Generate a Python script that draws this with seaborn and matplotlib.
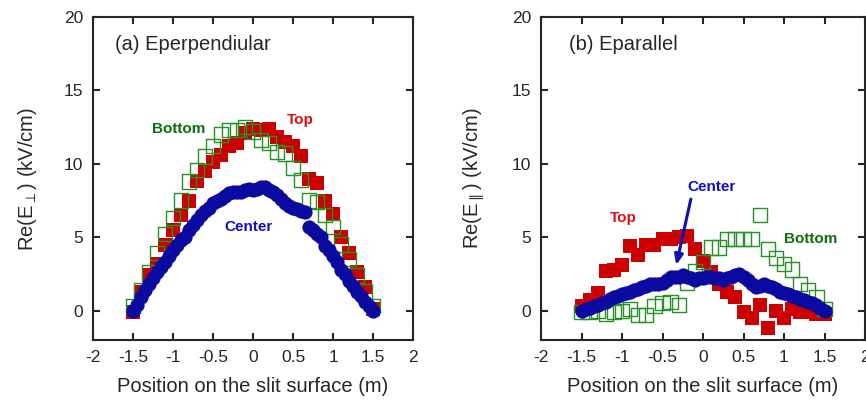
import numpy as np
import pandas as pd
import seaborn as sns
import matplotlib
matplotlib.use("Agg")
import matplotlib.pyplot as plt

# ---- data ----
# (a) E perpendicular
x_sq = [-1.5, -1.4, -1.3, -1.2, -1.1, -1.0, -0.9, -0.8, -0.7, -0.6, -0.5, -0.4, -0.3, -0.2, -0.1, 0.0,
        0.1, 0.2, 0.3, 0.4, 0.5, 0.6, 0.7, 0.8, 0.9, 1.0, 1.1, 1.2, 1.3, 1.4, 1.5]
a_top = [-0.1, 1.3, 2.4, 3.2, 4.5, 5.5, 6.5, 7.5, 8.8, 9.5, 10.1, 10.6, 11.2, 11.4, 12.1, 12.4,
         12.3, 12.4, 11.8, 11.5, 11.2, 10.5, 9.0, 8.7, 7.5, 6.6, 5.0, 3.9, 2.6, 1.6, 0.1]
a_bottom = [0.3, 1.4, 2.6, 3.9, 5.2, 6.3, 7.5, 8.8, 9.6, 10.5, 11.2, 12.0, 12.3, 12.3, 12.5, 12.2,
            11.6, 11.4, 10.8, 10.7, 9.7, 8.9, 7.5, 7.4, 6.5, 5.7, 4.5, 3.5, 2.4, 1.3, 0.3]

x_ci = [-1.5, -1.45, -1.4, -1.35, -1.3, -1.25, -1.2, -1.15, -1.1, -1.05, -1.0, -0.95, -0.9, -0.85,
        -0.8, -0.75, -0.7, -0.65, -0.6, -0.55, -0.5, -0.45, -0.4, -0.35, -0.3, -0.25, -0.2, -0.15,
        -0.1, -0.05, 0.0, 0.05, 0.1, 0.15, 0.2, 0.25, 0.3, 0.35, 0.4, 0.45, 0.5, 0.55, 0.6, 0.65,
        0.7, 0.75, 0.8, 0.85, 0.9, 0.95, 1.0, 1.05, 1.1, 1.15, 1.2, 1.25, 1.3, 1.35, 1.4, 1.45, 1.5]
a_center = [0.0, 0.4, 0.9, 1.4, 1.8, 2.2, 2.6, 3.0, 3.3, 3.7, 4.1, 4.5, 4.8, 5.0, 5.5, 5.8, 6.2,
            6.5, 6.8, 7.0, 7.3, 7.5, 7.6, 7.8, 8.0, 8.1, 8.1, 8.1, 8.2, 8.3, 8.2, 8.3, 8.4, 8.4,
            8.2, 8.1, 7.9, 7.6, 7.3, 7.1, 7.0, 6.9, 6.8, 6.7, 5.7, 5.5, 5.2, 5.0, 4.4, 4.1, 3.7,
            3.3, 2.8, 2.5, 2.0, 1.7, 1.3, 1.0, 0.6, 0.3, 0.0]

# (b) E parallel
b_top = [0.3, 0.7, 1.2, 2.7, 2.8, 3.1, 4.4, 3.8, 4.5, 4.5, 4.9, 4.9, 5.0, 5.1, 4.2, 3.4,
         2.6, 1.8, 1.3, 0.9, -0.1, -0.5, 0.4, -1.2, 0.0, -0.5, 0.1, -0.1, -0.1, -0.2, -0.2]
b_bottom = [-0.1, -0.1, 0.0, -0.2, -0.1, 0.0, 0.1, -0.3, -0.3, 0.3, 0.5, 0.6, 0.4, 1.9, 2.7, 3.3,
            4.3, 4.3, 4.9, 4.9, 4.9, 4.9, 6.5, 4.2, 3.6, 3.2, 2.8, 1.8, 1.4, 0.9, 0.1]
b_center = [0.0, 0.1, 0.2, 0.3, 0.4, 0.5, 0.6, 0.8, 0.9, 1.0, 1.1, 1.2, 1.3, 1.4, 1.5, 1.6, 1.7,
            1.8, 1.8, 1.8, 1.9, 2.1, 2.3, 2.3, 2.3, 2.4, 2.3, 2.2, 2.1, 2.2, 2.2, 2.3, 2.3, 2.2,
            2.2, 2.1, 2.2, 2.3, 2.4, 2.5, 2.3, 2.1, 1.8, 1.6, 1.7, 1.8, 1.7, 1.6, 1.5, 1.3, 1.2,
            1.1, 1.0, 0.9, 0.8, 0.7, 0.6, 0.5, 0.4, 0.2, 0.0]

x_ticks = [-2, -1.5, -1, -0.5, 0, 0.5, 1, 1.5, 2]
x_ticklabels = ["-2", "-1.5", "-1", "-0.5", "0", "0.5", "1", "1.5", "2"]
y_ticks = [0, 5, 10, 15, 20]

RED = "#cc0000"
GREEN = "#239323"
BLUE = "#0a0aa0"

sns.set_style("ticks")
plt.rcParams["font.family"] = ["Liberation Sans", "DejaVu Sans"]
plt.rcParams["mathtext.fontset"] = "dejavusans"

fig = plt.figure(figsize=(8.66, 4.03), dpi=100)
ax1 = fig.add_axes([93 / 866, 63 / 403, 320 / 866, 323 / 403])
ax2 = fig.add_axes([541 / 866, 63 / 403, 324 / 866, 323 / 403])


def draw_panel(ax, top, bottom, center):
    sns.scatterplot(x=x_sq, y=top, ax=ax, marker="s", s=105, color=RED, linewidth=0, zorder=2)
    sns.scatterplot(x=x_sq, y=bottom, ax=ax, marker="s", s=105, facecolor="none",
                    edgecolor=GREEN, linewidth=1.0, zorder=3)
    sns.scatterplot(x=x_ci, y=center, ax=ax, marker="o", s=105, color=BLUE, linewidth=0, zorder=4)
    ax.set_xlim(-2, 2)
    ax.set_ylim(-2, 20)
    ax.set_xticks(x_ticks)
    ax.set_xticklabels(x_ticklabels)
    ax.set_yticks(y_ticks)
    ax.tick_params(direction="in", length=5, width=1.5, top=True, right=True,
                   labelsize=12.5, pad=7)
    for sp in ax.spines.values():
        sp.set_linewidth(1.5)
        sp.set_visible(True)
    ax.set_xlabel("Position on the slit surface (m)", fontsize=14.5, labelpad=9)


draw_panel(ax1, a_top, a_bottom, a_center)
draw_panel(ax2, b_top, b_bottom, b_center)

ax1.set_ylabel(r"Re(E$_{\perp}$) (kV/cm)", fontsize=14.5, labelpad=18)
ax2.set_ylabel(r"Re(E$_{\parallel}$) (kV/cm)", fontsize=14.5, labelpad=18)

ax1.text(-1.72, 18.1, "(a) Eperpendiular", fontsize=14.5, va="center", ha="left")
ax2.text(-1.66, 18.1, "(b) Eparallel", fontsize=14.5, va="center", ha="left")

ax1.text(-0.93, 12.4, "Bottom", color="#0b6e0b", fontsize=11, fontweight="bold", ha="center", va="center")
ax1.text(0.59, 13.0, "Top", color="#e01010", fontsize=11, fontweight="bold", ha="center", va="center")
ax1.text(-0.06, 5.7, "Center", color="#1010c0", fontsize=11, fontweight="bold", ha="center", va="center")

ax2.text(-0.98, 6.3, "Top", color="#e01010", fontsize=11, fontweight="bold", ha="center", va="center")
ax2.text(0.1, 8.4, "Center", color="#1010c0", fontsize=11, fontweight="bold", ha="center", va="center")
ax2.text(1.33, 4.9, "Bottom", color="#0b6e0b", fontsize=11, fontweight="bold", ha="center", va="center")
ax2.annotate("", xy=(-0.33, 3.1), xytext=(-0.15, 7.6),
             arrowprops=dict(arrowstyle="-|>,head_length=0.6,head_width=0.25",
                             color="#1010b0", lw=2.2, shrinkA=0, shrinkB=0))

fig.savefig("out.png", dpi=100)
